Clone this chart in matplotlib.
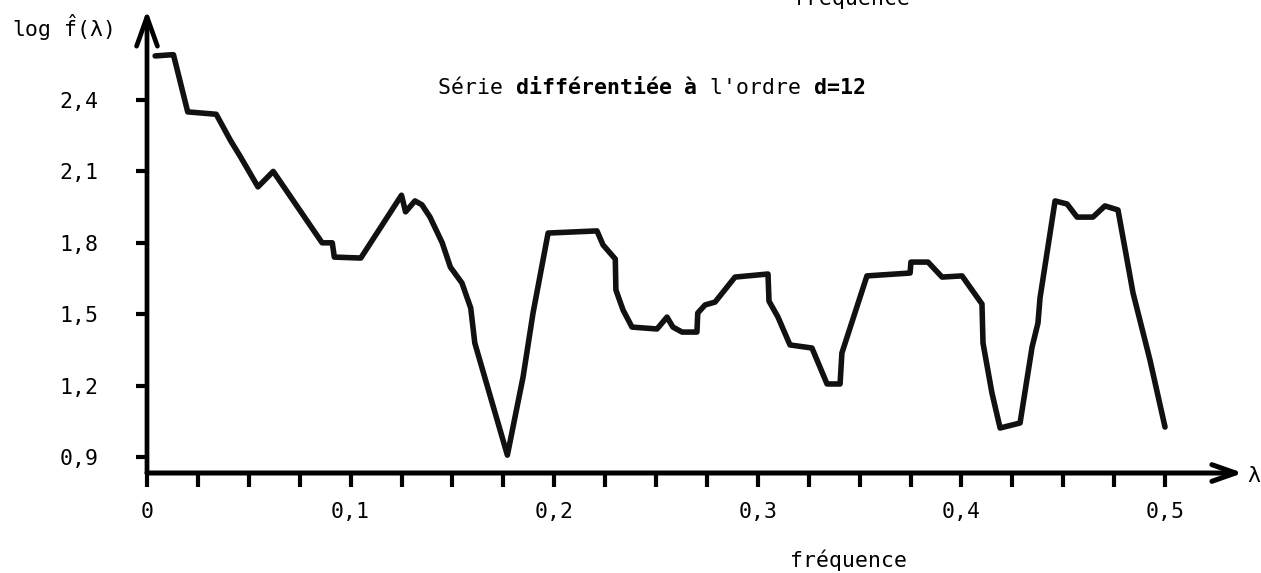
import matplotlib
matplotlib.use('Agg')
import matplotlib.pyplot as plt
import numpy as np

plt.rcParams['font.family'] = ['DejaVu Sans Mono', 'DejaVu Sans']
plt.rcParams['mathtext.fontset'] = 'custom'
plt.rcParams['mathtext.rm'] = 'DejaVu Sans Mono'
plt.rcParams['mathtext.it'] = 'DejaVu Sans Mono'

# estimated log spectral density of the differenced series (d=12)
freq = [0.004, 0.012, 0.013, 0.020, 0.034, 0.041, 0.046, 0.0545, 0.062, 0.086,
        0.091, 0.092, 0.105, 0.125, 0.127, 0.1316, 0.135, 0.139, 0.145, 0.149,
        0.1547, 0.159, 0.161, 0.177, 0.1847, 0.1896, 0.197, 0.221, 0.224, 0.230,
        0.2303, 0.2338, 0.2382, 0.2505, 0.2554, 0.2583, 0.2628, 0.2701, 0.2705, 0.2741,
        0.279, 0.2888, 0.305, 0.3055, 0.3099, 0.3158, 0.3266, 0.334, 0.3404, 0.3413,
        0.3536, 0.3748, 0.3752, 0.3836, 0.3905, 0.4003, 0.4101, 0.4106, 0.415, 0.419,
        0.4288, 0.4347, 0.4376, 0.4386, 0.446, 0.4519, 0.4568, 0.4646, 0.4705, 0.4769,
        0.4843, 0.4926, 0.500]
log_f = [2.585, 2.59, 2.59, 2.35, 2.34, 2.23, 2.16, 2.035, 2.10, 1.80,
         1.80, 1.74, 1.736, 2.00, 1.93, 1.976, 1.96, 1.908, 1.80, 1.698,
         1.631, 1.526, 1.379, 0.908, 1.236, 1.505, 1.841, 1.85, 1.791, 1.732,
         1.602, 1.518, 1.446, 1.438, 1.488, 1.446, 1.425, 1.425, 1.505, 1.539,
         1.551, 1.656, 1.669, 1.555, 1.488, 1.371, 1.358, 1.207, 1.207, 1.337,
         1.661, 1.673, 1.719, 1.719, 1.656, 1.661, 1.543, 1.379, 1.169, 1.022,
         1.043, 1.362, 1.463, 1.568, 1.976, 1.963, 1.908, 1.908, 1.955, 1.938,
         1.589, 1.308, 1.026]

y_ticks = [0.9, 1.2, 1.5, 1.8, 2.1, 2.4]
y_tick_labels = ['0,9', '1,2', '1,5', '1,8', '2,1', '2,4']
x_major = [0.0, 0.1, 0.2, 0.3, 0.4, 0.5]
x_major_labels = ['0', '0,1', '0,2', '0,3', '0,4', '0,5']
x_minor = [0.025, 0.05, 0.075, 0.125, 0.15, 0.175, 0.225, 0.25, 0.275,
           0.325, 0.35, 0.375, 0.425, 0.45, 0.475]

title_parts = [("Série ", 'normal'), ("différentiée", 'bold'), (" ", 'normal'),
               ("à", 'bold'), (" l'ordre ", 'normal'), ("d=12", 'bold')]

FS = 15.5
W, H = 1261, 573
fig = plt.figure(figsize=(W / 100, H / 100), dpi=100)
ax = fig.add_axes([147 / W, (H - 473) / H, 1096 / W, 463 / H])
ax.set_xlim(0, 0.5383)
ax.set_ylim(0.833, 2.778)

ax.plot(freq, log_f, color='#111111', lw=4.0,
        solid_joinstyle='round', solid_capstyle='round')

for s in ax.spines.values():
    s.set_visible(False)

# axes drawn as thick arrows
arrow_kw = dict(color='black', shrinkA=0, shrinkB=0)
ax.annotate('', xy=(0, 1), xytext=(0, 0), xycoords='axes fraction',
            arrowprops=dict(arrowstyle='->,head_length=2.1,head_width=0.75',
                            lw=3.4, **arrow_kw))
ax.annotate('', xy=(1, 0), xytext=(0, 0), xycoords='axes fraction',
            arrowprops=dict(arrowstyle='->,head_length=1.7,head_width=0.6',
                            lw=3.6, **arrow_kw))

ax.set_yticks(y_ticks)
ax.set_yticklabels(y_tick_labels)
ax.set_xticks(x_major)
ax.set_xticklabels(x_major_labels)
ax.set_xticks(x_minor, minor=True)
ax.tick_params(axis='y', direction='out', length=8, width=3, pad=27,
               labelsize=FS, color='black')
ax.tick_params(axis='x', which='both', direction='out', length=10, width=3,
               pad=11, labelsize=FS, color='black')

fig.text(12 / W, 1 - 28 / H, r"log $\hat{f}$(λ)", fontsize=FS,
         ha='left', va='center')
fig.text(1247 / W, 1 - 476 / H, "λ", fontsize=FS, ha='left', va='center')
fig.text(790 / W, 1 - 567 / H, "fréquence", fontsize=FS, ha='left',
         va='baseline')
fig.text(793 / W, 1 - 5 / H, "fréquence", fontsize=FS, ha='left',
         va='baseline')

adv = 0.602 * FS * 100 / 72
x0 = 438
for txt, weight in title_parts:
    fig.text(x0 / W, 1 - 88 / H, txt, fontsize=FS, fontweight=weight,
             ha='left', va='center')
    x0 += len(txt) * adv

fig.savefig('out.png', dpi=100, facecolor='white')
